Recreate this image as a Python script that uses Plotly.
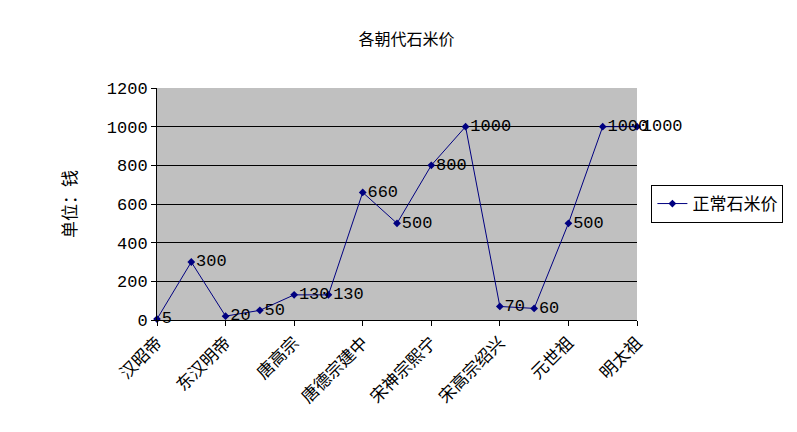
import plotly.graph_objects as go

x_idx = list(range(15))
values = [5, 300, 20, 50, 130, 130, 660, 500, 800, 1000, 70, 60, 500, 1000, 1000]
tick_idx = [0, 2, 4, 6, 8, 10, 12, 14]
tick_labels = ["汉昭帝", "东汉明帝", "唐高宗", "唐德宗建中", "宋神宗熙宁", "宋高宗绍兴", "元世祖", "明太祖"]

font = "Noto Sans CJK SC"
mono = "Liberation Mono, DejaVu Sans Mono"
fig = go.Figure(go.Scatter(
    x=x_idx, y=values, mode="lines+markers+text", name="正常石米价",
    line=dict(color="#000080", width=1), marker=dict(symbol="diamond", size=6, color="#000080"),
    text=[str(v) for v in values], textposition="middle right",
    textfont=dict(family=mono, size=17, color="black"),
    cliponaxis=False))
fig.update_layout(
    width=797, height=432, paper_bgcolor="white", plot_bgcolor="#C0C0C0",
    margin=dict(l=149, r=168, t=80, b=120, autoexpand=False),
    title=dict(text="各朝代石米价", x=0.5, xanchor="center", y=0.94, font=dict(family=font, size=16, color="black")),
    xaxis=dict(range=[0, 14], tickvals=tick_idx, ticktext=tick_labels, tickangle=-45, automargin=False,
               showgrid=False, zeroline=False, showline=True, linecolor="black",
               ticks="outside", tickcolor="black", ticklen=5,
               tickfont=dict(family=font, size=17, color="black")),
    yaxis=dict(range=[0, 1200], dtick=200, showgrid=True, gridcolor="black", gridwidth=1, automargin=False,
               zeroline=False, showline=True, linecolor="black", ticks="outside", tickcolor="black",
               tickfont=dict(family=mono, size=17, color="black"),
               title=dict(text="单位：钱", font=dict(family=font, size=17, color="black"), standoff=25)),
    showlegend=True,
    legend=dict(x=1.03, y=0.5, xanchor="left", yanchor="middle", bordercolor="black", borderwidth=1,
                font=dict(family=font, size=17, color="black"), bgcolor="white"),
)
fig.write_html("out.html")
